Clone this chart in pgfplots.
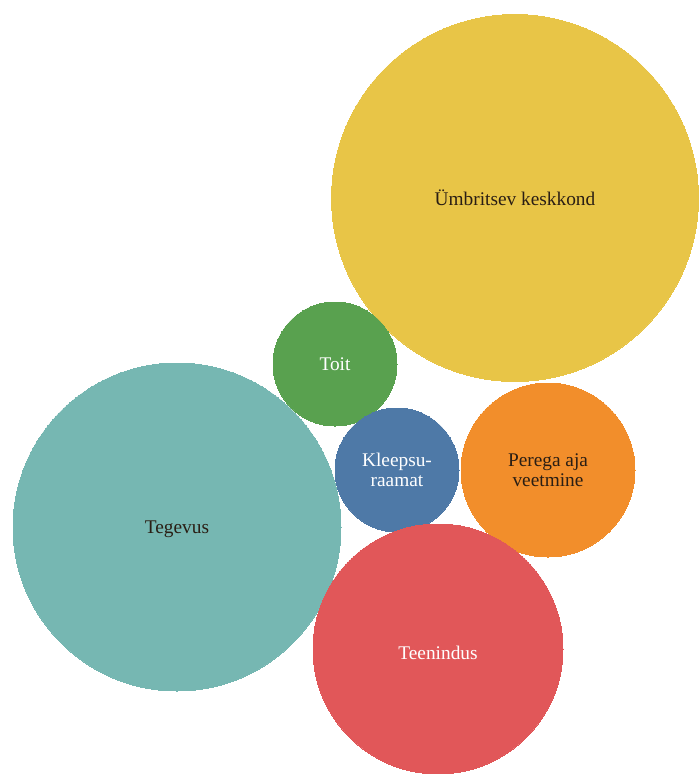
\documentclass[border=0pt]{standalone}
\usepackage{pgfplots}
\pgfplotsset{compat=1.18}
\usepackage{fontspec}
\setmainfont{Liberation Serif}
\definecolor{cYel}{HTML}{E8C547}
\definecolor{cGrn}{HTML}{59A14F}
\definecolor{cTea}{HTML}{76B7B2}
\definecolor{cBlu}{HTML}{4E79A7}
\definecolor{cOra}{HTML}{F28E2B}
\definecolor{cRed}{HTML}{E15759}
\definecolor{cTxt}{HTML}{2A1E14}
\begin{document}
\begin{tikzpicture}
\begin{axis}[
  width=522.75pt, height=580.5pt, scale only axis,
  xmin=0, xmax=697, ymin=0, ymax=774, y dir=reverse,
  axis lines=box, axis line style={draw=none}, ticks=none,
  clip=false,
  every axis plot/.append style={only marks, mark=*, line width=0pt,
     nodes near coords align={center},
     every node near coord/.append style={align=center, font=\fontsize{14.5}{15}\selectfont, inner sep=0pt}},
]
% Ümbritsev keskkond
\addplot[color=cYel, mark size=137.6pt,
  nodes near coords={Ümbritsev keskkond},
  every node near coord/.append style={text=cTxt}]
  coordinates {(515,198)};
% Toit
\addplot[color=cGrn, mark size=46.5pt,
  nodes near coords={Toit},
  every node near coord/.append style={text=white}]
  coordinates {(335,364)};
% Tegevus
\addplot[color=cTea, mark size=123pt,
  nodes near coords={Tegevus},
  every node near coord/.append style={text=cTxt, yshift=-2pt}]
  coordinates {(177,527)};
% Kleepsuraamat
\addplot[color=cBlu, mark size=46.5pt,
  nodes near coords={Kleepsu-\\raamat},
  every node near coord/.append style={text=white}]
  coordinates {(397,470)};
% Perega aja veetmine
\addplot[color=cOra, mark size=65.25pt,
  nodes near coords={Perega aja\\veetmine},
  every node near coord/.append style={text=cTxt}]
  coordinates {(548,470)};
% Teenindus
\addplot[color=cRed, mark size=93.75pt,
  nodes near coords={Teenindus},
  every node near coord/.append style={text=white, yshift=-3pt}]
  coordinates {(438,649)};
\end{axis}
\end{tikzpicture}
\end{document}
